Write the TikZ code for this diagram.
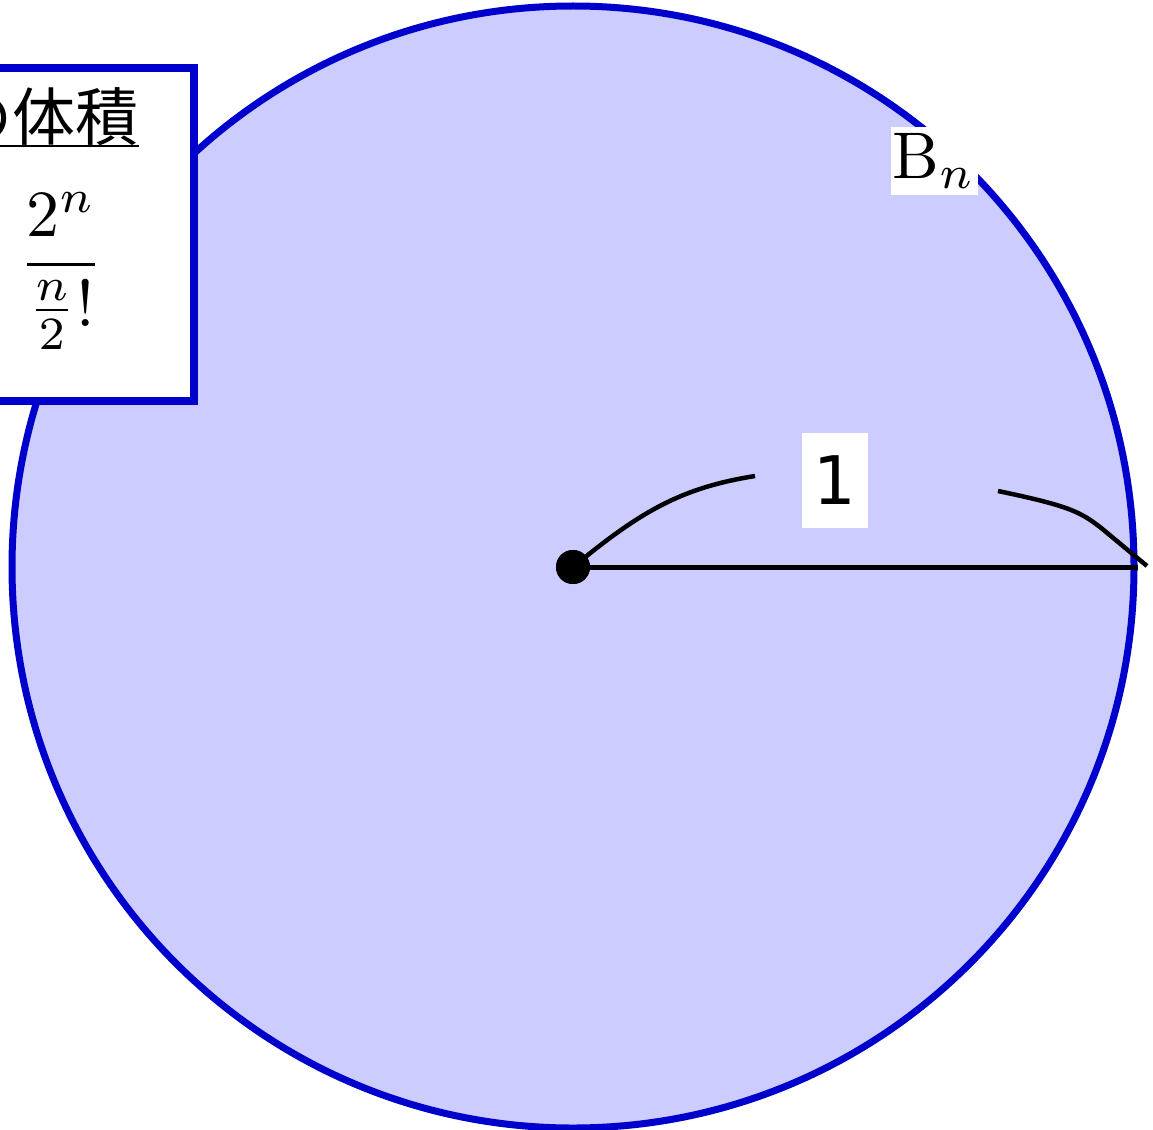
\documentclass[tikz,border=0pt]{standalone}
\usepackage{fontspec}
\newfontfamily\jpfont{Noto Sans CJK JP}
\newfontfamily\numfont{DejaVu Sans}
\begin{document}
\begin{tikzpicture}[x=1pt,y=-1pt,
  ballstyle/.style={circle, fill=blue!20, draw=blue!80!black, line width=7pt, inner sep=0pt},
  bracestyle/.style={line width=4.5pt},
  lblstyle/.style={fill=white, inner sep=0pt}]
\useasboundingbox (0,0) rectangle (1153,1129);
\clip (0,0) rectangle (1153,1129);
\node[ballstyle, minimum size=1122pt] (ball) at (573,567) {};
\coordinate (l1) at (755,476);
\coordinate (r1) at (998,491);
\coordinate (r2) at (1147,566);
\node[circle, fill=black, minimum size=34pt, inner sep=0pt] (c) at (573,567) {};
\draw[bracestyle] (c.center) .. controls (640,512) and (680,488) .. (l1);
\draw[bracestyle] (r1) .. controls (1070,506) and (1080,512) .. (1100,527) -- (r2);
\draw[line width=5pt] (c.center) -- (ball.east);
\node[circle, fill=black, minimum size=34pt, inner sep=0pt] at (c.center) {};
\node[lblstyle, minimum width=66pt, minimum height=95pt, font=\numfont\fontsize{67}{80}\selectfont] (one) at (835,480) {1};
\node[lblstyle, minimum width=87pt, minimum height=68pt] (bn) at (934,161) {\scalebox{6.6}{$\mathrm{B}_n$}};
\node[draw=blue!80!black, fill=white, line width=8pt, minimum width=300pt, minimum height=333pt, anchor=north east, inner sep=0pt] (box) at (198,64) {};
\node[inner sep=0pt, anchor=base east, font=\jpfont\fontsize{63}{70}\selectfont] (ttl) at (139,140) {の体積};
\draw[line width=2.5pt] ([yshift=-6pt]ttl.base west) -- ([yshift=-6pt]ttl.base east);
\node[inner sep=0pt] (frac) at (61,271) {\scalebox{6.6}{$\displaystyle\frac{2^n}{\frac{n}{2}!}$}};
\end{tikzpicture}
\end{document}
